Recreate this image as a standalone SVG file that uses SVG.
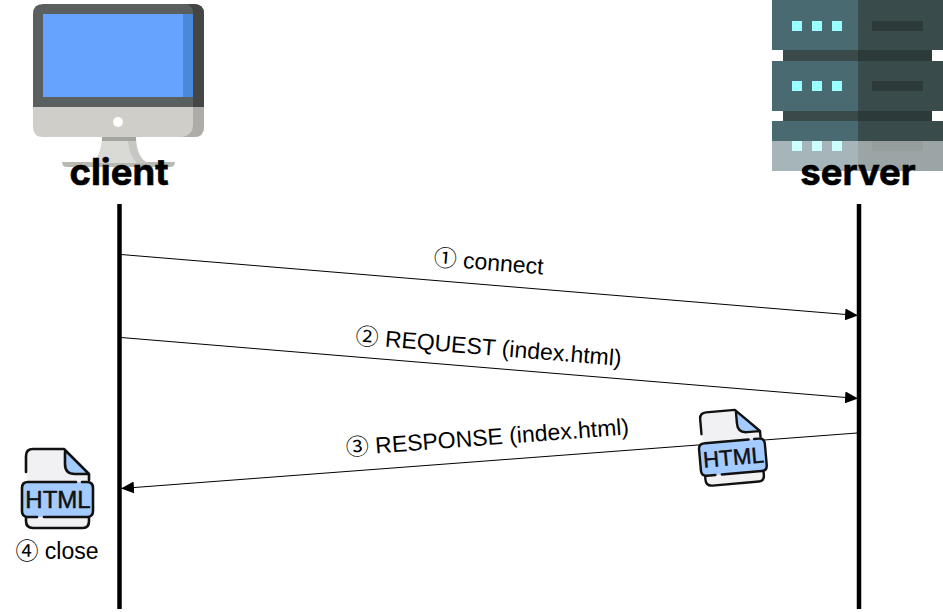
<svg xmlns="http://www.w3.org/2000/svg" width="943" height="612" viewBox="0 0 943 612">
<style>
.life{stroke:#000;stroke-width:4.5;fill:none}
.msg{stroke:#000;stroke-width:1;fill:none;marker-end:url(#arrow)}
.lbl{font-family:"Liberation Sans",Arial,"Noto Sans CJK JP",sans-serif;font-size:23px;fill:#000;text-anchor:middle}
.ttl{font-family:"Inter","Liberation Sans",sans-serif;font-size:36.5px;font-weight:700;fill:#000;stroke:#000;stroke-width:.6;text-anchor:middle}
.ol{fill:none;stroke:#111;stroke-width:2.6;stroke-linecap:round;stroke-linejoin:round}
.ht{font-family:"Liberation Sans",Arial,sans-serif;font-size:24px;fill:#111;stroke:#111;stroke-width:.5;text-anchor:middle}
</style>
<defs>
<marker id="arrow" markerWidth="14" markerHeight="12" refX="13" refY="6" orient="auto" markerUnits="userSpaceOnUse"><path d="M0 0L13 6L0 12Z" fill="#000"/></marker>
<g id="htmlicon">
<path d="M31 449H64L89 474V482H27V455Q27 449 31 449Z" fill="#f1f1f3"/>
<path d="M27 517H89V522Q89 528 83 528H33Q27 528 27 522Z" fill="#f1f1f3"/>
<path d="M66 451L88 473H74Q66 473 66 465Z" fill="#a3cbff"/>
<rect x="22" y="482" width="71" height="35" rx="6" fill="#a3cbff"/>
<path class="ol" d="M26 472V456Q26 449 33 449H64L89 474V480M65 452V464Q65 474 75 474H88M26 517V521Q26 528 33 528H83Q89 528 89 521V517M29 482H76M82 482H87Q93 482 93 488V511Q93 517 87 517H44M37 517H28Q22 517 22 511V488Q22 482 28 482"/>
<text class="ht" x="58" y="508">HTML</text>
</g>
</defs>
<rect width="943" height="612" fill="#fff"/>
<g id="client-icon">
<path d="M62 162H175Q175 167 170 167H67Q62 167 62 162Z" fill="#b9b9b4"/>
<path d="M102 137H136Q137 158 148 163H90Q101 158 102 137Z" fill="#d9d9d6"/>
<path d="M128 141H136Q137 158 148 163H137Q129 155 128 141Z" fill="#c6c6c2"/>
<rect x="102" y="137" width="34" height="4" fill="#a4a49f"/>
<path d="M33 107V14Q33 4 43 4H194Q204 4 204 14V107Z" fill="#5a5f60"/>
<path d="M187 4H194Q204 4 204 14V107H193V14Q193 6 187 4Z" fill="#444645"/>
<rect x="43" y="14" width="150" height="83" fill="#66a3ff"/>
<rect x="183" y="14" width="10" height="83" fill="#4a88d9"/>
<path d="M33 107H204V127Q204 137 194 137H43Q33 137 33 127Z" fill="#d0cec8"/>
<path d="M193 107H204V127Q204 137 194 137H182Q193 135 193 125Z" fill="#aeaca6"/>
<circle cx="118" cy="122" r="5" fill="#fff"/>
</g>
<g id="server-icon">
<rect x="783" y="50" width="149" height="71" fill="#3a4a4a"/>
<rect x="858" y="50" width="74" height="71" fill="#2c3a3a"/>
<rect x="772" y="0" width="86" height="50" fill="#4a6a72"/>
<rect x="858" y="0" width="85" height="50" fill="#394b4b"/>
<rect x="772" y="61" width="86" height="50" fill="#4a6a72"/>
<rect x="858" y="61" width="85" height="50" fill="#394b4b"/>
<rect x="772" y="121" width="86" height="50" fill="#4a6a72"/>
<rect x="858" y="121" width="85" height="50" fill="#394b4b"/>
<g fill="#99ffff">
<rect x="792" y="21" width="10" height="10"/><rect x="812" y="21" width="10" height="10"/><rect x="832" y="21" width="10" height="10"/>
<rect x="792" y="81" width="10" height="10"/><rect x="812" y="81" width="10" height="10"/><rect x="832" y="81" width="10" height="10"/>
<rect x="792" y="141" width="10" height="10"/><rect x="812" y="141" width="10" height="10"/><rect x="832" y="141" width="10" height="10"/>
</g>
<g fill="#2c3a3a">
<rect x="872" y="21" width="51" height="10"/><rect x="872" y="81" width="51" height="10"/><rect x="872" y="141" width="51" height="10"/>
</g>
<rect x="772" y="141" width="171" height="30" fill="#fff" fill-opacity=".5"/>
</g>
<g id="connectors">
<line class="life" x1="119.5" y1="204" x2="119.5" y2="609"/>
<line class="life" x1="859" y1="204" x2="859" y2="609"/>
<line class="msg" x1="121" y1="254.5" x2="858" y2="315.5"/>
<line class="msg" x1="121" y1="337.5" x2="858" y2="398.5"/>
<line class="msg" x1="857" y1="433" x2="121" y2="488.5"/>
</g>
<g id="client-title"><text class="ttl" x="119" y="184.5">client</text></g>
<g id="server-title"><text class="ttl" x="858" y="184.5">server</text></g>
<g id="label-1"><text class="lbl" transform="translate(488 270) rotate(4.7)">① connect</text></g>
<g id="label-2"><text class="lbl" transform="translate(488 355) rotate(4.7)">② REQUEST (index.html)</text></g>
<g id="label-3"><text class="lbl" transform="translate(488 445) rotate(-4.3)">③ RESPONSE (index.html)</text></g>
<g id="label-4"><text class="lbl" x="57" y="559">④ close</text></g>
<g id="file-client"><use href="#htmlicon"/></g>
<g id="file-server"><use href="#htmlicon" transform="translate(732 447) rotate(-5) scale(.93) translate(-57.5 -488.5)"/></g>
</svg>
